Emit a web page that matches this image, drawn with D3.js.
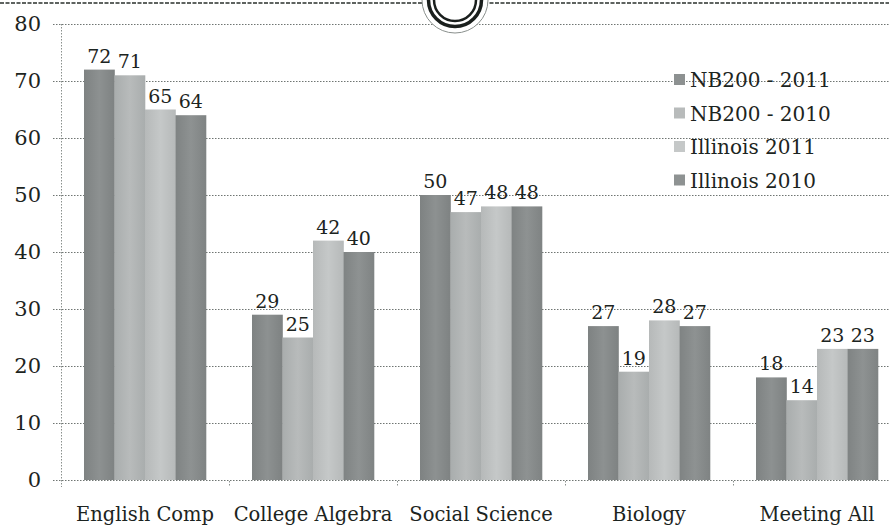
<!DOCTYPE html>
<html><head><meta charset="utf-8">
<script src="https://cdn.jsdelivr.net/npm/d3@7"></script>
<style>
html,body{margin:0;padding:0;background:#fff;}
svg{display:block;}
text{font-family:"DejaVu Serif",serif;fill:#1c2421;}
</style></head>
<body>
<svg id="c" width="889" height="528"></svg>
<script>
const categories = ["English Comp","College Algebra","Social Science","Biology","Meeting All"];
const seriesNames = ["NB200 - 2011","NB200 - 2010","Illinois 2011","Illinois 2010"];
const nb2011 = [72,29,50,27,18];
const nb2010 = [71,25,47,19,14];
const il2011 = [65,42,48,28,23];
const il2010 = [64,40,48,27,23];
const yTicks = [0,10,20,30,40,50,60,70,80];
const seriesValues = [nb2011, nb2010, il2011, il2010];
const colors = ["#8d9191","#b8bbbb","#c5c8c8","#8e9292"];
const edgeColors = ["#7e8282","#a9adad","#b6b9b9","#7f8383"];

const svg = d3.select("#c");
const x0 = d3.scaleBand().domain(categories).range([61,901]).paddingInner(0).paddingOuter(0);
const x1 = d3.scaleBand().domain(d3.range(seriesNames.length)).range([0,x0.bandwidth()]).paddingInner(0).paddingOuter(0.754);
const y = d3.scaleLinear().domain([0,80]).range([480,24]);

// gradients
const defs = svg.append("defs");
colors.forEach((c,i)=>{
  const g = defs.append("linearGradient").attr("id","g"+i).attr("x1","0").attr("x2","1").attr("y1","0").attr("y2","0");
  g.append("stop").attr("offset","0").attr("stop-color",edgeColors[i]);
  g.append("stop").attr("offset","0.5").attr("stop-color",c);
  g.append("stop").attr("offset","1").attr("stop-color",edgeColors[i]);
});

// top dashed line
svg.append("line").attr("x1",0).attr("x2",889).attr("y1",3).attr("y2",3)
  .attr("stroke","#2a302d").attr("stroke-width",1.5).attr("stroke-dasharray","4,1.5");

// gridlines
svg.append("g").selectAll("line").data(yTicks).join("line")
  .attr("x1",53).attr("x2",889).attr("y1",d=>y(d)+0.5).attr("y2",d=>y(d)+0.5)
  .attr("stroke","#6f7572").attr("stroke-width",1).attr("stroke-dasharray","1.5,1.5");

// y axis line
svg.append("line").attr("x1",61.5).attr("x2",61.5).attr("y1",y(80)).attr("y2",487)
  .attr("stroke","#8a908d").attr("stroke-width",1).attr("stroke-dasharray","1.5,1.5");

// y tick labels
svg.append("g").selectAll("text").data(yTicks).join("text")
  .attr("x",41).attr("y",d=>y(d)+7).attr("text-anchor","end")
  .style("font-size","21px").text(d=>d);

// category ticks
svg.append("g").selectAll("line").data(categories.slice(1)).join("line")
  .attr("x1",d=>x0(d)+0.5).attr("x2",d=>x0(d)+0.5).attr("y1",481).attr("y2",487)
  .attr("stroke","#8a908d").attr("stroke-width",1).attr("stroke-dasharray","1.5,1.5");

// bars
const groups = svg.append("g").selectAll("g").data(categories).join("g")
  .attr("transform",d=>`translate(${x0(d)},0)`);
groups.selectAll("rect").data((d,ci)=>seriesValues.map((s,si)=>({si,v:s[ci]}))).join("rect")
  .attr("x",d=>x1(d.si)).attr("width",x1.bandwidth()+0.3)
  .attr("y",d=>y(d.v)).attr("height",d=>y(0)-y(d.v))
  .attr("fill",d=>`url(#g${d.si})`);
groups.selectAll("text").data((d,ci)=>seriesValues.map((s,si)=>({si,v:s[ci]}))).join("text")
  .attr("x",d=>x1(d.si)+x1.bandwidth()/2).attr("y",d=>y(d.v)-7)
  .attr("text-anchor","middle").style("font-size","19px").text(d=>d.v);

// category labels
svg.append("g").selectAll("text").data(categories).join("text")
  .attr("x",d=>x0(d)+x0.bandwidth()/2).attr("y",521)
  .attr("text-anchor","middle").style("font-size","19.5px").text(d=>d);

// legend
const leg = svg.append("g").selectAll("g").data(seriesNames).join("g")
  .attr("transform",(d,i)=>`translate(674,${80+i*33.5})`);
leg.append("rect").attr("x",0).attr("y",-6).attr("width",11).attr("height",11)
  .attr("fill",(d,i)=>colors[i]);
leg.append("text").attr("x",16).attr("y",7).style("font-size","20px").text(d=>d);

// ring at top
const ring = svg.append("g").attr("transform","translate(455,0)");
ring.append("circle").attr("r",33).attr("fill","#fff").attr("stroke","#8a908d").attr("stroke-width",1);
ring.append("circle").attr("r",26.5).attr("fill","none").attr("stroke","#1a1f1d").attr("stroke-width",3.5);
ring.append("circle").attr("r",21).attr("fill","none").attr("stroke","#1a1f1d").attr("stroke-width",2.5);
</script>
</body></html>
